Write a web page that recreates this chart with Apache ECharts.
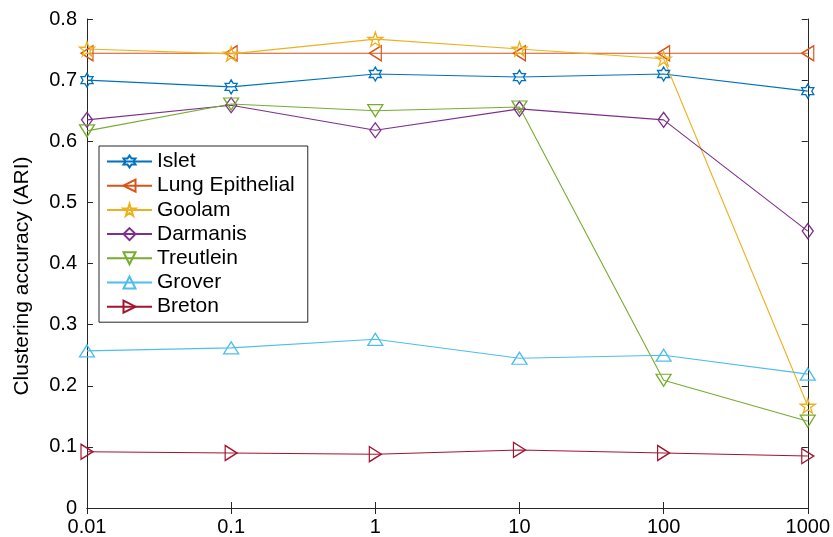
<!DOCTYPE html>
<html>
<head>
<meta charset="utf-8">
<script src="https://cdn.jsdelivr.net/npm/echarts@6/dist/echarts.min.js"></script>
<style>
  html, body { margin: 0; padding: 0; background: #fff; }
  #chart { width: 833px; height: 537px; }
</style>
</head>
<body>
<div id="chart"></div>
<script>
// x positions (log scale)
const xValues = [0.01, 0.1, 1, 10, 100, 1000];
const yTicks = [0, 0.1, 0.2, 0.3, 0.4, 0.5, 0.6, 0.7, 0.8];

const islet = [0.700, 0.689, 0.710, 0.705, 0.710, 0.682];
const lungEpithelial = [0.744, 0.744, 0.744, 0.744, 0.744, 0.744];
const goolam = [0.751, 0.743, 0.767, 0.751, 0.735, 0.167];
const darmanis = [0.635, 0.659, 0.618, 0.653, 0.635, 0.453];
const treutlein = [0.617, 0.661, 0.650, 0.656, 0.209, 0.142];
const grover = [0.257, 0.262, 0.276, 0.245, 0.250, 0.219];
const breton = [0.092, 0.090, 0.088, 0.095, 0.090, 0.085];

const HEXAGRAM = 'path://M0,-10 L2.887,-5 L8.66,-5 L5.774,0 L8.66,5 L2.887,5 L0,10 L-2.887,5 L-8.66,5 L-5.774,0 L-8.66,-5 L-2.887,-5 Z';
const PENTAGRAM = 'path://M0,-10 L2.245,-3.09 L9.511,-3.09 L3.633,1.18 L5.878,8.09 L0,3.82 L-5.878,8.09 L-3.633,1.18 L-9.511,-3.09 L-2.245,-3.09 Z';
const TRI_UP = 'path://M0,-1 L1,1 L-1,1 Z';
const TRI_DOWN = 'path://M-1,-1 L1,-1 L0,1 Z';
const TRI_LEFT = 'path://M-1,0 L1,-1 L1,1 Z';
const TRI_RIGHT = 'path://M-1,-1 L1,0 L-1,1 Z';

const font = 'Liberation Sans, Arial, sans-serif';
const axisColor = '#262626';

function makeSeries(name, values, color, symbol, size) {
  return {
    name: name,
    type: 'line',
    data: xValues.map((x, i) => [x, values[i]]),
    symbol: symbol,
    symbolSize: size,
    symbolKeepAspect: true,
    showAllSymbol: true,
    lineStyle: { color: color, width: 1.1 },
    itemStyle: { color: 'rgba(255,255,255,0)', borderColor: color, borderWidth: 1.3 },
    emphasis: { disabled: true },
    animation: false
  };
}

function boxAxis(extra) {
  return Object.assign({
    axisLine: { show: true, lineStyle: { color: axisColor, width: 1 } },
    axisTick: { show: true, inside: true, length: 6, lineStyle: { color: axisColor } },
    splitLine: { show: false },
    axisLabel: { show: false }
  }, extra);
}

const chart = echarts.init(document.getElementById('chart'));
chart.setOption({
  backgroundColor: '#fff',
  grid: { left: 87, right: 24, top: 19, bottom: 29 },
  legend: {
    orient: 'vertical',
    left: 99,
    top: 146,
    itemWidth: 45,
    itemHeight: 15,
    itemGap: 3.2,
    padding: [5, 13, 5, 7],
    borderColor: axisColor,
    borderWidth: 1,
    backgroundColor: '#fff',
    textStyle: { fontFamily: font, fontSize: 21, color: '#000', lineHeight: 21 },
    data: ['Islet', 'Lung Epithelial', 'Goolam', 'Darmanis', 'Treutlein', 'Grover', 'Breton']
  },
  graphic: [{
    type: 'text',
    x: 22,
    y: 276,
    rotation: Math.PI / 2,
    style: {
      text: 'Clustering accuracy (ARI)',
      font: '21px ' + font,
      fill: '#000',
      align: 'center',
      verticalAlign: 'middle'
    }
  }],
  xAxis: [boxAxis({
    type: 'log',
    logBase: 10,
    min: 0.01,
    max: 1000,
    minorTick: { show: false },
    axisLabel: {
      show: true, fontFamily: font, fontSize: 20, color: '#000', margin: 9,
      formatter: v => String(+v.toPrecision(6))
    }
  }), boxAxis({
    type: 'log',
    logBase: 10,
    min: 0.01,
    max: 1000,
    position: 'top'
  })],
  yAxis: [boxAxis({
    type: 'value',
    min: 0,
    max: 0.8,
    interval: 0.1,
    axisLabel: {
      show: true, fontFamily: font, fontSize: 20, color: '#000', margin: 10,
      formatter: v => String(yTicks.find(t => Math.abs(t - v) < 1e-9) ?? +v.toFixed(1))
    }
  }), boxAxis({
    type: 'value',
    min: 0,
    max: 0.8,
    interval: 0.1,
    position: 'right'
  })],
  series: [
    makeSeries('Islet', islet, '#0072BD', HEXAGRAM, 14),
    makeSeries('Lung Epithelial', lungEpithelial, '#D95319', TRI_LEFT, [12, 15]),
    makeSeries('Goolam', goolam, '#EDB120', PENTAGRAM, 15),
    makeSeries('Darmanis', darmanis, '#7E2F8E', 'diamond', [11, 15]),
    makeSeries('Treutlein', treutlein, '#77AC30', TRI_DOWN, [15, 12]),
    makeSeries('Grover', grover, '#4DBEEE', TRI_UP, [15, 12]),
    makeSeries('Breton', breton, '#A2142F', TRI_RIGHT, [12, 15])
  ]
});
</script>
</body>
</html>
